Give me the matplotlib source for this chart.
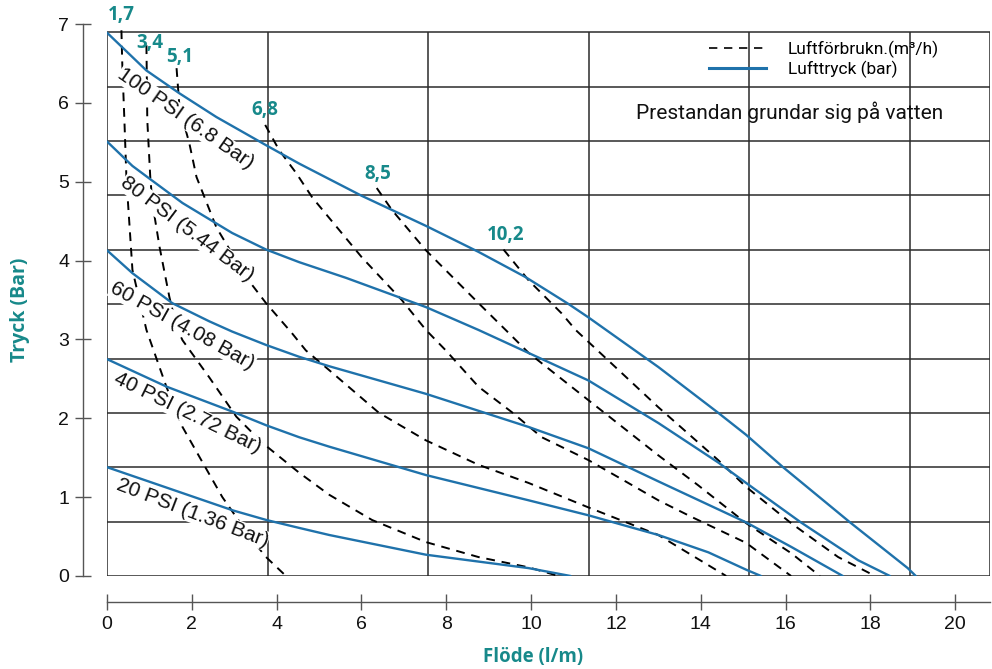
import numpy as np
import matplotlib
matplotlib.use("Agg")
import matplotlib.pyplot as plt
from matplotlib.lines import Line2D

# ---------------- data (flow l/min, pressure bar) ----------------
# Outlet pressure curves for different air inlet pressures
p100_x = [0.0, 0.93, 1.71, 2.58, 3.76, 4.53, 6.01, 7.52, 8.76, 9.87, 10.88, 11.35, 13.0, 14.41, 15.07, 15.94, 17.52, 18.88, 19.07]
p100_y = [6.89, 6.41, 6.12, 5.82, 5.46, 5.23, 4.82, 4.44, 4.11, 3.79, 3.45, 3.28, 2.65, 2.07, 1.79, 1.38, 0.68, 0.10, 0.0]

p80_x = [0.0, 0.60, 1.00, 1.78, 2.95, 3.75, 4.53, 5.64, 7.52, 8.76, 11.35, 13.0, 14.41, 15.07, 16.36, 17.71, 18.46]
p80_y = [5.51, 5.20, 5.04, 4.73, 4.35, 4.14, 3.98, 3.78, 3.41, 3.12, 2.48, 1.94, 1.44, 1.18, 0.68, 0.20, 0.0]

p60_x = [0.0, 0.60, 1.54, 2.41, 2.95, 3.75, 4.53, 5.24, 7.52, 9.94, 11.35, 13.0, 15.07, 16.13, 17.35]
p60_y = [4.13, 3.84, 3.46, 3.23, 3.10, 2.93, 2.78, 2.66, 2.31, 1.89, 1.62, 1.20, 0.68, 0.37, 0.0]

p40_x = [0.0, 1.41, 2.98, 3.76, 4.53, 5.24, 7.52, 9.94, 11.35, 13.0, 14.18, 15.07, 15.42]
p40_y = [2.75, 2.40, 2.08, 1.91, 1.76, 1.64, 1.28, 0.96, 0.77, 0.52, 0.30, 0.08, 0.0]

p20_x = [0.0, 1.41, 2.98, 3.76, 4.53, 5.24, 7.52, 9.94, 10.93]
p20_y = [1.38, 1.12, 0.83, 0.71, 0.61, 0.52, 0.27, 0.10, 0.0]

pressure_labels = ["100 PSI (6.8 Bar)", "80 PSI (5.44 Bar)", "60 PSI (4.08 Bar)",
                   "40 PSI (2.72 Bar)", "20 PSI (1.36 Bar)"]

# Air consumption curves (m3/h)
a17_x = [0.34, 0.36, 0.41, 0.46, 0.60, 0.93, 1.40, 1.78, 2.18, 2.72, 3.42, 3.75, 4.22]
a17_y = [6.92, 6.50, 5.78, 5.02, 3.88, 3.12, 2.40, 1.89, 1.51, 1.00, 0.46, 0.24, 0.0]

a34_x = [0.93, 0.95, 1.02, 1.07, 1.24, 1.47, 1.64, 1.78, 2.41, 3.05, 3.66, 4.53, 5.24, 6.25, 7.52, 8.76, 9.94, 10.65]
a34_y = [6.73, 5.78, 5.06, 4.73, 4.17, 3.54, 3.16, 2.99, 2.52, 2.02, 1.69, 1.31, 1.03, 0.71, 0.43, 0.24, 0.11, 0.0]

a51_x = [1.64, 1.71, 1.94, 2.11, 2.58, 3.28, 3.75, 4.36, 4.69, 5.24, 6.41, 7.52, 8.76, 9.94, 11.35, 13.0, 14.60]
a51_y = [6.44, 5.94, 5.49, 5.06, 4.42, 3.79, 3.46, 3.08, 2.86, 2.61, 2.07, 1.72, 1.41, 1.18, 0.87, 0.52, 0.0]

a68_x = [3.73, 4.06, 4.46, 4.84, 6.01, 6.95, 7.52, 7.99, 8.76, 9.54, 10.25, 11.35, 12.29, 13.0, 13.78, 15.07, 16.13]
a68_y = [5.72, 5.40, 5.11, 4.80, 4.04, 3.50, 3.12, 2.86, 2.40, 2.08, 1.76, 1.47, 1.18, 0.96, 0.75, 0.42, 0.0]

a85_x = [6.36, 6.72, 7.52, 8.76, 9.40, 9.94, 11.35, 13.0, 13.94, 15.07, 16.13, 16.81]
a85_y = [4.92, 4.64, 4.13, 3.46, 3.12, 2.83, 2.23, 1.53, 1.15, 0.67, 0.29, 0.0]

a102_x = [9.35, 9.94, 10.72, 11.05, 13.0, 14.41, 15.07, 16.13, 17.24, 18.11]
a102_y = [4.14, 3.75, 3.33, 3.12, 2.14, 1.47, 1.13, 0.67, 0.24, 0.0]

air_labels = ["1,7", "3,4", "5,1", "6,8", "8,5", "10,2"]

x_ticks = [0, 2, 4, 6, 8, 10, 12, 14, 16, 18, 20]
y_ticks = [0, 1, 2, 3, 4, 5, 6, 7]

# background grid: 10 psi steps (in bar) and 1 US gpm steps (in l/min)
psi_grid = [0, 10, 20, 30, 40, 50, 60, 70, 80, 90, 100]
gpm_grid = [0, 1, 2, 3, 4, 5, 5.5]
PSI2BAR = 0.0689476
GPM2LPM = 3.78541

# ---------------- styling / layout ----------------
BLUE = "#1f72ab"
TEAL = "#17898a"
GRIDC = "#2b2b2b"

fig = plt.figure(figsize=(9.92, 6.69), dpi=100)
W, H = 992, 669
ax = fig.add_axes([107 / W, 1 - 576 / H, (990 - 107) / W, (576 - 24) / H])

x_max = gpm_grid[-1] * GPM2LPM
y_top = psi_grid[-1] * PSI2BAR
ax.set_xlim(0, x_max)
ax.set_ylim(0, 7)

# grid
for p in psi_grid:
    ax.plot([0, x_max], [p * PSI2BAR] * 2, color=GRIDC, lw=1.1, zorder=1, solid_capstyle="butt")
for g in gpm_grid:
    ax.plot([g * GPM2LPM] * 2, [0, y_top], color=GRIDC, lw=1.1, zorder=1, solid_capstyle="butt")

# air consumption dashed curves
air_curves = [(a17_x, a17_y), (a34_x, a34_y), (a51_x, a51_y),
              (a68_x, a68_y), (a85_x, a85_y), (a102_x, a102_y)]
for xs, ys in air_curves:
    ax.plot(xs, ys, color="black", lw=1.4, ls=(0, (4.5, 3.5)), zorder=3)

# pressure curves
p_curves = [(p100_x, p100_y), (p80_x, p80_y), (p60_x, p60_y), (p40_x, p40_y), (p20_x, p20_y)]
for xs, ys in p_curves:
    ax.plot(xs, ys, color=BLUE, lw=1.7, zorder=5, solid_capstyle="round", solid_joinstyle="round")

# pressure labels (rotated)
plab_pos = [(1.85, 5.80, -35), (1.89, 4.40, -37), (1.78, 3.17, -29), (1.89, 2.07, -26), (2.01, 0.80, -21)]
for lab, (lx, ly, rot) in zip(pressure_labels, plab_pos):
    ax.text(lx, ly, lab, rotation=rot, rotation_mode="anchor", ha="center", va="center",
            fontsize=15, family="Liberation Sans", color="#111111", zorder=4,
            bbox=dict(facecolor="white", edgecolor="none", pad=0.3))

# air consumption labels
alab_pos = [(0.34, 7.12), (1.0, 6.76), (1.71, 6.58), (3.71, 5.91), (6.39, 5.10), (9.40, 4.32)]
for lab, (lx, ly) in zip(air_labels, alab_pos):
    ax.text(lx, ly, lab, ha="center", va="center", fontsize=13.5, fontweight="bold",
            family="Open Sans", color=TEAL, zorder=6, clip_on=False)

# spines / ticks
for s in ["top", "right"]:
    ax.spines[s].set_visible(False)
ax.spines["left"].set_position(("outward", 24 * 72 / 100))
ax.spines["bottom"].set_position(("outward", 26 * 72 / 100))
ax.spines["left"].set_bounds(0, 7)
ax.spines["bottom"].set_bounds(0, x_max)
for s in ["left", "bottom"]:
    ax.spines[s].set_color("#555555")
    ax.spines[s].set_linewidth(1.0)
ax.set_xticks(x_ticks)
ax.set_yticks(y_ticks)
ax.tick_params(axis="both", direction="inout", length=12, width=1.0, color="#555555",
               labelsize=14, labelcolor="#111111")
ax.tick_params(axis="x", pad=4)
ax.tick_params(axis="y", pad=4)
for lbl in ax.get_xticklabels() + ax.get_yticklabels():
    lbl.set_family("Liberation Sans")

# axis titles
fig.text(533 / W, 1 - 657 / H, "Flöde (l/m)", ha="center", va="center", fontsize=13.5,
         fontweight="bold", family="Open Sans", color=TEAL)
fig.text(20 / W, 1 - 310 / H, "Tryck (Bar)", ha="center", va="center", fontsize=14,
         fontweight="bold", family="Open Sans", color=TEAL, rotation=90)

# legend
handles = [Line2D([], [], color="black", lw=1.2, ls=(0, (5, 4))),
           Line2D([], [], color=BLUE, lw=2.2)]
leg = ax.legend(handles, ["Luftförbrukn.(m³/h)", "Lufttryck (bar)"],
                loc="upper left", bbox_to_anchor=(700 / W, 1 - 32 / H),
                bbox_transform=fig.transFigure, frameon=False, borderpad=0,
                handlelength=3.3, handletextpad=1.25, labelspacing=0.15,
                prop={"family": "Roboto", "size": 12.5})
leg.set_zorder(7)

fig.text(790 / W, 1 - 112 / H, "Prestandan grundar sig på vatten", ha="center", va="center",
         fontsize=15, family="Roboto", color="#111111")

fig.savefig("out.png", dpi=100, facecolor="white")
